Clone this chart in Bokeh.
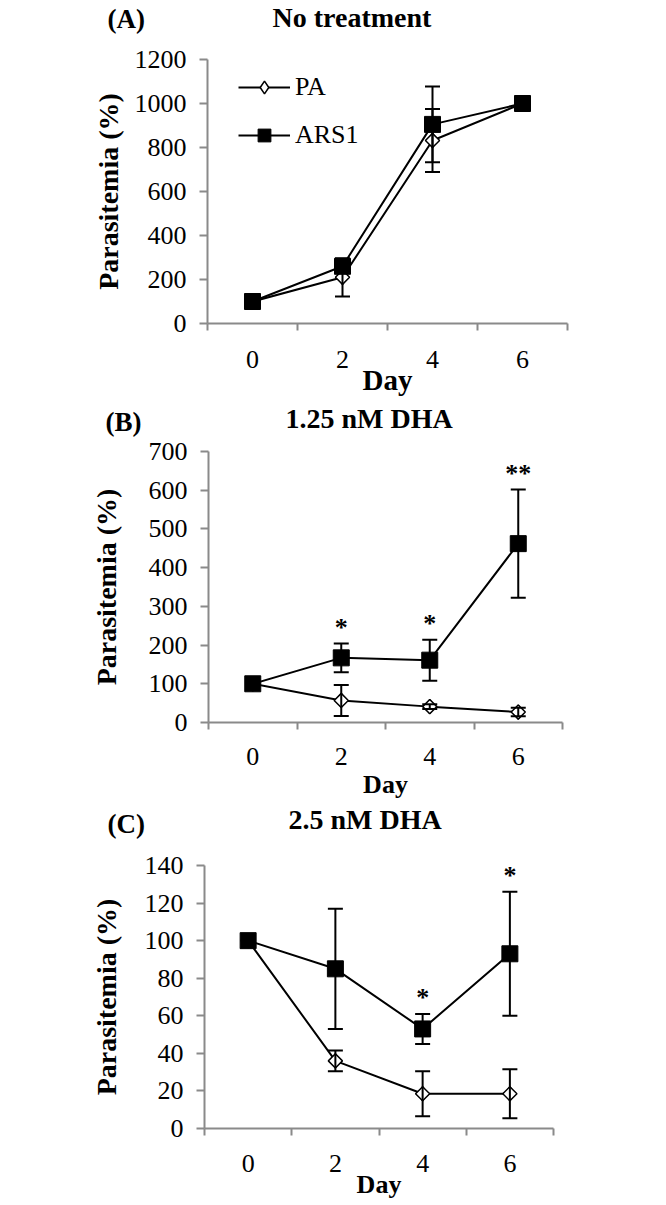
import math
from bokeh.plotting import figure
from bokeh.models import (ColumnDataSource, FixedTicker, Whisker, TeeHead, Label,
                          Legend, LegendItem, Range1d)
from bokeh.embed import file_html
from bokeh.resources import INLINE
from bokeh.core.properties import value

# ---------------- data ----------------
days = [0, 2, 4, 6]
day_bounds = [-1, 1, 3, 5, 7]

# (A) No treatment
a_pa = [100, 210, 832, 1000]
a_pa_err = [0, 87, 143, 0]
a_ars1 = [100, 260, 905, 1000]
a_ars1_err = [0, 25, 172, 0]
a_stars = ["", "", "", ""]

# (B) 1.25 nM DHA
b_pa = [100, 57, 41, 27]
b_pa_err = [0, 40, 6, 11]
b_ars1 = [100, 167, 161, 462]
b_ars1_err = [0, 37, 53, 140]
b_stars = ["", "*", "*", "**"]

# (C) 2.5 nM DHA
c_pa = [100, 36, 18.5, 18.5]
c_pa_err = [0, 5.5, 12, 13]
c_ars1 = [100, 85, 53, 93]
c_ars1_err = [0, 32, 8, 33]
c_stars = ["", "", "*", "*"]

SERIF = "Liberation Serif"
GRAY = "#8a8a8a"
W = 666


def err_source(y, e):
    xs, up, lo = [], [], []
    for d, v, s in zip(days, y, e):
        if s > 0:
            xs.append(d)
            up.append(v + s)
            lo.append(v - s)
    return ColumnDataSource(dict(x=xs, upper=up, lower=lo))


def make_header(h, letter, letter_xy, title, title_xy):
    p = figure(width=W, height=h, x_range=Range1d(0, 1), y_range=Range1d(0, 1),
               x_axis_type=None, y_axis_type=None, output_backend="svg",
               toolbar_location=None, min_border=0)
    p.outline_line_color = None
    p.add_layout(Label(x=title_xy[0], y=title_xy[1], x_units="screen", y_units="screen",
                       text=title, text_font=SERIF, text_font_style="bold",
                       text_font_size="28px", text_color="black",
                       text_align="left", text_baseline="alphabetic"))
    p.add_layout(Label(x=letter_xy[0], y=letter_xy[1], x_units="screen", y_units="screen",
                       text=letter, text_font=SERIF, text_font_style="bold",
                       text_font_size="27px", text_color="black",
                       text_align="left", text_baseline="alphabetic"))
    return p


def make_panel(pa, pa_err, ars, ars_err, stars, ymax, ystep,
               fw, fh, bl, br, bt, bb,
               y_lab_standoff, x_tick_standoff, x_lab_standoff, day_size,
               legend=False):
    p = figure(frame_width=fw, frame_height=fh,
               x_range=Range1d(-1, 7), y_range=Range1d(0, ymax),
               output_backend="svg", toolbar_location=None,
               min_border_left=bl, min_border_right=br,
               min_border_top=bt, min_border_bottom=bb)
    p.grid.visible = False
    p.outline_line_color = None

    # x axis
    xa = p.xaxis[0]
    xa.ticker = FixedTicker(ticks=days, minor_ticks=day_bounds)
    xa.major_tick_line_color = None
    xa.major_tick_out = 0
    xa.major_tick_in = 0
    xa.minor_tick_out = 7
    xa.minor_tick_in = 0
    xa.minor_tick_line_color = GRAY
    xa.minor_tick_line_width = 2
    xa.axis_line_color = GRAY
    xa.axis_line_width = 2
    xa.major_label_text_font = SERIF
    xa.major_label_text_font_size = "26px"
    xa.major_label_text_color = "black"
    xa.major_label_standoff = x_tick_standoff
    xa.axis_label = "Day"
    xa.axis_label_text_font = SERIF
    xa.axis_label_text_font_style = "bold"
    xa.axis_label_text_font_size = day_size
    xa.axis_label_text_color = "black"
    xa.axis_label_standoff = x_lab_standoff

    # y axis
    ya = p.yaxis[0]
    ya.ticker = FixedTicker(ticks=list(range(0, ymax + 1, ystep)), minor_ticks=[])
    ya.major_tick_out = 8
    ya.major_tick_in = 0
    ya.major_tick_line_color = GRAY
    ya.major_tick_line_width = 2
    ya.axis_line_color = GRAY
    ya.axis_line_width = 2
    ya.major_label_text_font = SERIF
    ya.major_label_text_font_size = "26px"
    ya.major_label_text_color = "black"
    ya.major_label_standoff = 13
    ya.axis_label = "Parasitemia (%)"
    ya.axis_label_text_font = SERIF
    ya.axis_label_text_font_style = "bold"
    ya.axis_label_text_font_size = "28px"
    ya.axis_label_text_color = "black"
    ya.axis_label_standoff = y_lab_standoff

    src = ColumnDataSource(dict(x=days, pa=pa, ars=ars))

    # error bars
    for y, e in ((pa, pa_err), (ars, ars_err)):
        w = Whisker(source=err_source(y, e), base="x", upper="upper", lower="lower",
                    line_color="black", line_width=2, level="glyph",
                    upper_head=TeeHead(size=15, line_color="black", line_width=2),
                    lower_head=TeeHead(size=15, line_color="black", line_width=2))
        p.add_layout(w)

    pa_line = p.line("x", "pa", source=src, line_color="black", line_width=2)
    # diamond key (also used by the legend), covered by the rotated-square markers
    pa_key = p.scatter("x", "pa", source=src, marker="diamond", size=14,
                       fill_color="white", line_color="black", line_width=1.5)
    p.scatter("x", "pa", source=src, marker="square", angle=math.pi / 4,
              size=10, fill_color="white", line_color="black", line_width=1.5)
    ars_line = p.line("x", "ars", source=src, line_color="black", line_width=2)
    ars_pts = p.scatter("x", "ars", source=src, marker="square", size=16,
                        fill_color="black", line_color="black")

    # significance stars above ARS1 error bars
    sx, sy, st = [], [], []
    for d, v, e, s in zip(days, ars, ars_err, stars):
        if s:
            sx.append(d)
            sy.append(v + e)
            st.append(s)
    if st:
        ssrc = ColumnDataSource(dict(x=sx, y=sy, t=st))
        p.text("x", "y", text="t", source=ssrc, text_font=value(SERIF),
               text_font_style="bold", text_font_size="26px", text_color="black",
               text_align="center", text_baseline="alphabetic", y_offset=-16)

    if legend:
        lg = Legend(items=[LegendItem(label="PA", renderers=[pa_line, pa_key]),
                           LegendItem(label="ARS1", renderers=[ars_line, ars_pts])],
                    location=(31, fh - 92), glyph_width=52, glyph_height=32,
                    label_height=32, spacing=16, padding=5, margin=0,
                    label_standoff=5, border_line_color=None,
                    background_fill_alpha=0, label_text_font=SERIF,
                    label_text_font_size="26px", label_text_color="black")
        p.add_layout(lg)
    return p


hA = make_header(45, "(A)", (107, 27), "No treatment", (272, 28))
pA = make_panel(a_pa, a_pa_err, a_ars1, a_ars1_err, a_stars, 1200, 200,
                360, 264, 207, 99, 14, 77, 8, 20, -7, "29px", legend=True)
hB = make_header(37, "(B)", (105, 16), "1.25 nM DHA", (285, 19))
pB = make_panel(b_pa, b_pa_err, b_ars1, b_ars1_err, b_stars, 700, 100,
                354, 271, 208, 104, 14, 81, 24, 18, 2, "26px")
hC = make_header(39, "(C)", (107, 19), "2.5 nM DHA", (288, 23))
pC = make_panel(c_pa, c_pa_err, c_ars1, c_ars1_err, c_stars, 140, 20,
                349, 263, 204, 113, 23, 77, 20, 19, -5, "26px")

# separate roots, stacked by the page, so each plot keeps its own borders
roots = [hA, pA, hB, pB, hC, pC]
open("out.html", "w").write(file_html(roots, INLINE))
